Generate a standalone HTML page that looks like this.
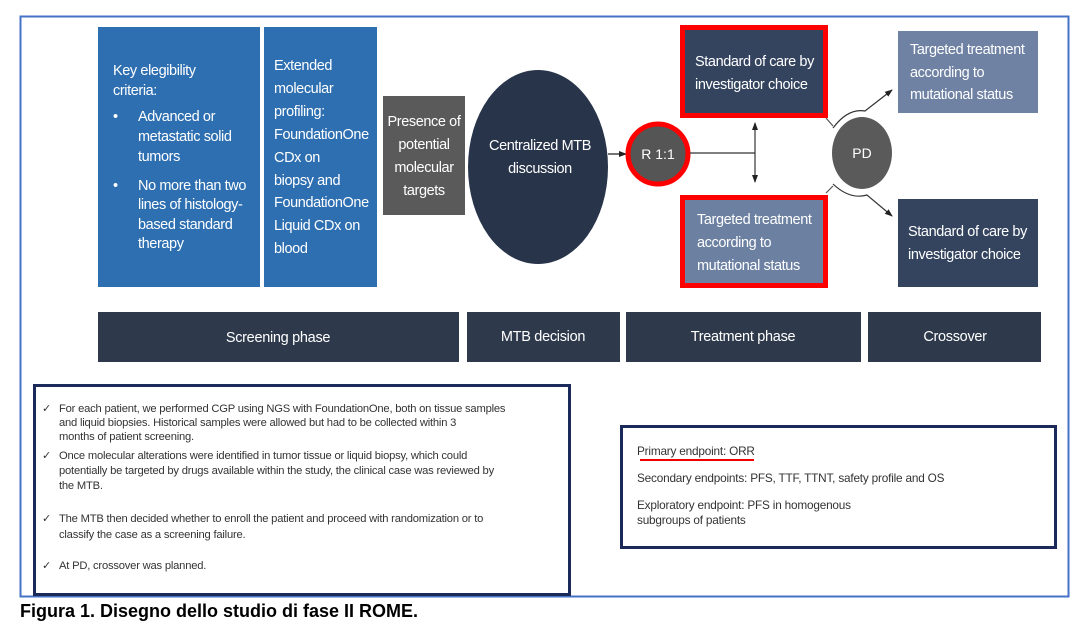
<!DOCTYPE html>
<html><head><meta charset="utf-8"><style>
html,body{margin:0;padding:0;background:#fff;}
svg{display:block;}
text{font-family:"Liberation Sans",sans-serif;}
</style></head><body>
<svg width="1086" height="629" viewBox="0 0 1086 629" xmlns="http://www.w3.org/2000/svg">
<defs>
<marker id="ar" markerWidth="8" markerHeight="8" refX="7" refY="4" orient="auto-start-reverse" markerUnits="userSpaceOnUse"><path d="M0,1 L8,4 L0,7 z" fill="#222"/></marker>
</defs>
<rect x="20.5" y="16.5" width="1048" height="580" fill="none" stroke="#4472c4" stroke-width="2"/>

<rect x="98" y="27" width="162" height="260" fill="#2e6fb1"/>
<rect x="264" y="27" width="113" height="260" fill="#2e6fb1"/>
<g fill="#fff" font-size="14.5" letter-spacing="-0.4">
<text x="113" y="75">Key elegibility</text>
<text x="113" y="95">criteria:</text>
<text x="113" y="121">•</text>
<text x="138" y="121">Advanced or</text>
<text x="138" y="141">metastatic solid</text>
<text x="138" y="161">tumors</text>
<text x="113" y="190">•</text>
<text x="138" y="190">No more than two</text>
<text x="138" y="209">lines of histology-</text>
<text x="138" y="229">based standard</text>
<text x="138" y="248">therapy</text>
<text x="274" y="70">Extended</text>
<text x="274" y="93">molecular</text>
<text x="274" y="116">profiling:</text>
<text x="274" y="139">FoundationOne</text>
<text x="274" y="162">CDx on</text>
<text x="274" y="185">biopsy and</text>
<text x="274" y="207">FoundationOne</text>
<text x="274" y="230">Liquid CDx on</text>
<text x="274" y="253">blood</text>
</g>
<rect x="383" y="96" width="82" height="119" fill="#5a5a5a"/>
<g fill="#fff" font-size="14.5" text-anchor="middle" letter-spacing="-0.4">
<text x="424" y="126">Presence of</text>
<text x="424" y="149">potential</text>
<text x="424" y="172">molecular</text>
<text x="424" y="195">targets</text>
</g>
<ellipse cx="538" cy="167" rx="70" ry="97" fill="#28344a"/>
<g fill="#fff" font-size="14.5" text-anchor="middle" letter-spacing="-0.4">
<text x="540" y="150">Centralized MTB</text>
<text x="540" y="173">discussion</text>
</g>
<line x1="608" y1="154" x2="626" y2="154" stroke="#222" stroke-width="1.2" marker-end="url(#ar)"/>

<circle cx="658" cy="154" r="30" fill="#555" stroke="#f00" stroke-width="5"/>
<text x="658" y="159" fill="#fff" font-size="14" text-anchor="middle">R 1:1</text>
<line x1="690" y1="153" x2="755" y2="153" stroke="#333" stroke-width="1.2"/>
<line x1="755" y1="123" x2="755" y2="182" stroke="#333" stroke-width="1.2" marker-start="url(#ar)" marker-end="url(#ar)"/>

<rect x="682.5" y="27.5" width="143" height="88" fill="#34445f" stroke="#f00" stroke-width="5"/>
<g fill="#fff" font-size="14.5" letter-spacing="-0.4">
<text x="695" y="66">Standard of care by</text>
<text x="695" y="89">investigator choice</text>
</g>
<rect x="682.5" y="197.5" width="143" height="88" fill="#6c80a2" stroke="#f00" stroke-width="5"/>
<g fill="#fff" font-size="14.5" letter-spacing="-0.4">
<text x="697" y="224">Targeted treatment</text>
<text x="697" y="247">according to</text>
<text x="697" y="270">mutational status</text>
</g>

<path d="M826,118 L833,126" stroke="#555" stroke-width="1.2" fill="none"/>
<path d="M826,193 L833,186" stroke="#555" stroke-width="1.2" fill="none"/>
<path d="M833,128 Q848,108 865,111 L892,90" stroke="#333" stroke-width="1.2" fill="none" marker-end="url(#ar)"/>
<path d="M833,184 Q850,200 867,195 L892,216" stroke="#333" stroke-width="1.2" fill="none" marker-end="url(#ar)"/>
<ellipse cx="862" cy="153" rx="30" ry="36" fill="#5a5a5a"/>
<text x="862" y="158" fill="#fff" font-size="14" text-anchor="middle">PD</text>

<rect x="898" y="31" width="140" height="82" fill="#6f82a4"/>
<g fill="#fff" font-size="14.5" letter-spacing="-0.4">
<text x="910" y="54">Targeted treatment</text>
<text x="910" y="77">according to</text>
<text x="910" y="99">mutational status</text>
</g>
<rect x="898" y="199" width="140" height="88" fill="#34445f"/>
<g fill="#fff" font-size="14.5" letter-spacing="-0.4">
<text x="908" y="236">Standard of care by</text>
<text x="908" y="259">investigator choice</text>
</g>

<g fill="#2e3a4c">
<rect x="98" y="312" width="361" height="50"/>
<rect x="467" y="312" width="153" height="50"/>
<rect x="626" y="312" width="235" height="50"/>
<rect x="868" y="312" width="173" height="50"/>
</g>
<g fill="#fff" font-size="14.5" text-anchor="middle" letter-spacing="-0.3">
<text x="278" y="342">Screening phase</text>
<text x="543" y="341">MTB decision</text>
<text x="743" y="341">Treatment phase</text>
<text x="955" y="341">Crossover</text>
</g>

<rect x="34.5" y="385.5" width="535" height="209" fill="#fff" stroke="#1c2a5a" stroke-width="3"/>
<g fill="#333" font-size="11.2" letter-spacing="-0.2">
<text x="42" y="412">✓</text>
<text x="59" y="412">For each patient, we performed CGP using NGS with FoundationOne, both on tissue samples</text>
<text x="59" y="426">and liquid biopsies. Historical samples were allowed but had to be collected within 3</text>
<text x="59" y="440">months of patient screening.</text>
<text x="42" y="459">✓</text>
<text x="59" y="459">Once molecular alterations were identified in tumor tissue or liquid biopsy, which could</text>
<text x="59" y="474">potentially be targeted by drugs  available within the study, the clinical case was reviewed by</text>
<text x="59" y="489">the MTB.</text>
<text x="42" y="522">✓</text>
<text x="59" y="522">The MTB then decided whether to enroll the patient and proceed with randomization or to</text>
<text x="59" y="538">classify the case as a screening  failure.</text>
<text x="42" y="569">✓</text>
<text x="59" y="569">At PD, crossover was planned.</text>
</g>

<rect x="621.5" y="426.5" width="434" height="121" fill="#fff" stroke="#1c2a5a" stroke-width="3"/>
<g fill="#333" font-size="11.8" letter-spacing="-0.2">
<text x="637" y="455">Primary endpoint: ORR</text>
<text x="637" y="482">Secondary endpoints: PFS, TTF, TTNT, safety profile and OS</text>
<text x="637" y="509">Exploratory endpoint: PFS  in homogenous</text>
<text x="637" y="524">subgroups of patients</text>
</g>
<line x1="640" y1="460" x2="754" y2="460" stroke="#e00" stroke-width="2"/>

<text x="20" y="617" fill="#000" font-size="18" font-weight="bold">Figura 1. Disegno dello studio di fase II ROME.</text>
</svg>
</body></html>
